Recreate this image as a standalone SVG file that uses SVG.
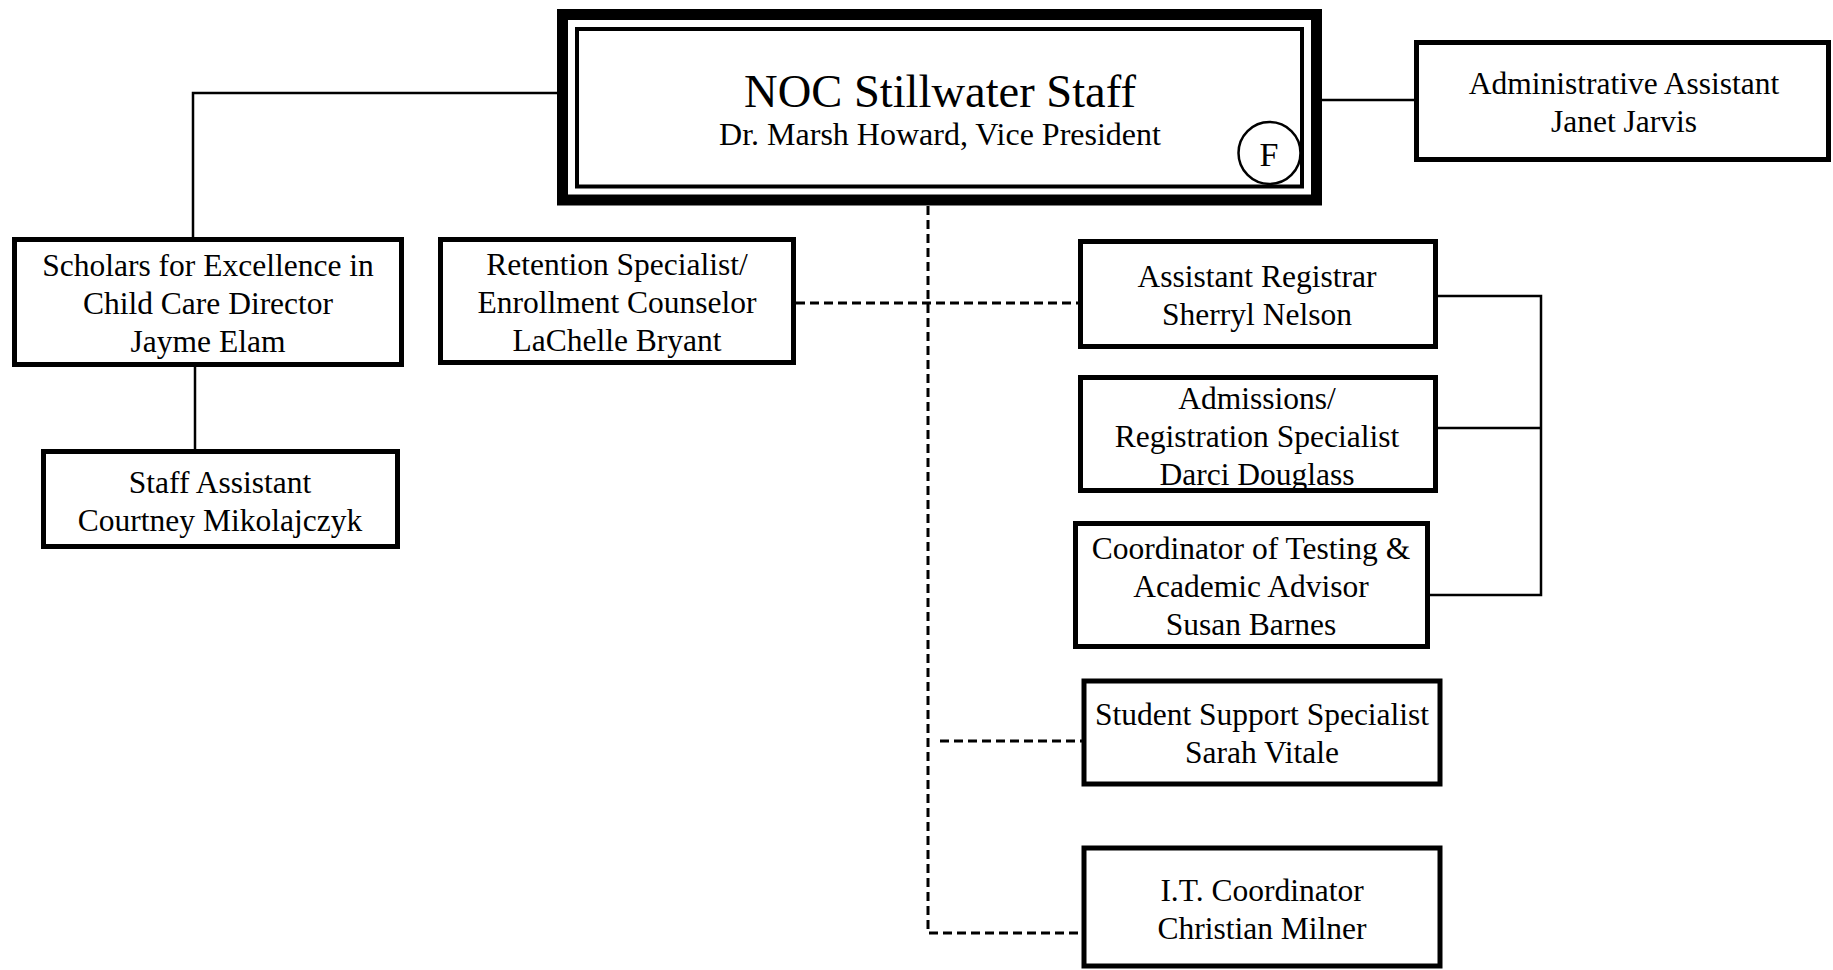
<svg xmlns="http://www.w3.org/2000/svg" width="1833" height="970" viewBox="0 0 1833 970">
<style>
  text { font-family: "Liberation Serif", "DejaVu Serif", serif; fill: #000; text-anchor: middle; }
  .t { font-size: 31.5px; }
  .box { fill: #fff; stroke: #000; stroke-width: 5; }
  .ln { fill: none; stroke: #000; stroke-width: 2.5; }
  .dl { fill: none; stroke: #000; stroke-width: 3; stroke-dasharray: 9 5; }
</style>
<rect width="1833" height="970" fill="#fff"/>
<g id="connectors">
  <polyline class="ln" points="557,93 193,93 193,238"/>
  <line class="ln" x1="195" y1="366" x2="195" y2="450"/>
  <line class="ln" x1="1322" y1="100" x2="1415" y2="100"/>
  <polyline class="ln" points="1437,296 1541,296 1541,595 1429,595"/>
  <line class="ln" x1="1437" y1="428" x2="1541" y2="428"/>
  <polyline class="dl" points="928,206 928,933 1083,933"/>
  <line class="dl" x1="796" y1="303" x2="1079" y2="303"/>
  <line class="dl" x1="940" y1="741" x2="1082" y2="741"/>
</g>
<g id="noc">
  <rect x="562.5" y="14.5" width="754" height="185.5" fill="#fff" stroke="#000" stroke-width="11"/>
  <rect x="577" y="29" width="725" height="157.5" fill="none" stroke="#000" stroke-width="4"/>
  <text x="940" y="107" style="font-size:46.5px">NOC Stillwater Staff</text>
  <text x="940" y="145" style="font-size:32px">Dr. Marsh Howard, Vice President</text>
  <circle cx="1269.5" cy="153" r="31" fill="#fff" stroke="#000" stroke-width="2.5"/>
  <text x="1269" y="166" style="font-size:34px">F</text>
</g>
<g id="admin">
  <rect class="box" x="1416.5" y="42.5" width="412" height="117"/>
  <text x="1624" y="94" class="t">Administrative Assistant</text>
  <text x="1624" y="132" class="t">Janet Jarvis</text>
</g>
<g id="scholars">
  <rect class="box" x="14.5" y="239.5" width="387" height="125"/>
  <text x="208" y="276" class="t">Scholars for Excellence in</text>
  <text x="208" y="314" class="t">Child Care Director</text>
  <text x="208" y="352" class="t">Jayme Elam</text>
</g>
<g id="staff">
  <rect class="box" x="43.5" y="451.5" width="354" height="95"/>
  <text x="220" y="493" class="t">Staff Assistant</text>
  <text x="220" y="531" class="t">Courtney Mikolajczyk</text>
</g>
<g id="retention">
  <rect class="box" x="440.5" y="239.5" width="353" height="123"/>
  <text x="617" y="275" class="t">Retention Specialist/</text>
  <text x="617" y="313" class="t">Enrollment Counselor</text>
  <text x="617" y="351" class="t">LaChelle Bryant</text>
</g>
<g id="registrar">
  <rect class="box" x="1080.5" y="241.5" width="355" height="105"/>
  <text x="1257" y="287" class="t">Assistant Registrar</text>
  <text x="1257" y="325" class="t">Sherryl Nelson</text>
</g>
<g id="admissions">
  <rect class="box" x="1080.5" y="377.5" width="355" height="113"/>
  <text x="1257" y="409" class="t">Admissions/</text>
  <text x="1257" y="447" class="t">Registration Specialist</text>
  <text x="1257" y="485" class="t">Darci Douglass</text>
</g>
<g id="testing">
  <rect class="box" x="1075.5" y="523.5" width="352" height="123"/>
  <text x="1251" y="559" class="t">Coordinator of Testing &amp;</text>
  <text x="1251" y="597" class="t">Academic Advisor</text>
  <text x="1251" y="635" class="t">Susan Barnes</text>
</g>
<g id="support">
  <rect class="box" x="1084" y="681" width="356" height="103"/>
  <text x="1262" y="725" class="t">Student Support Specialist</text>
  <text x="1262" y="763" class="t">Sarah Vitale</text>
</g>
<g id="it">
  <rect class="box" x="1084" y="848" width="356" height="118"/>
  <text x="1262" y="901" class="t">I.T. Coordinator</text>
  <text x="1262" y="939" class="t">Christian Milner</text>
</g>
</svg>
